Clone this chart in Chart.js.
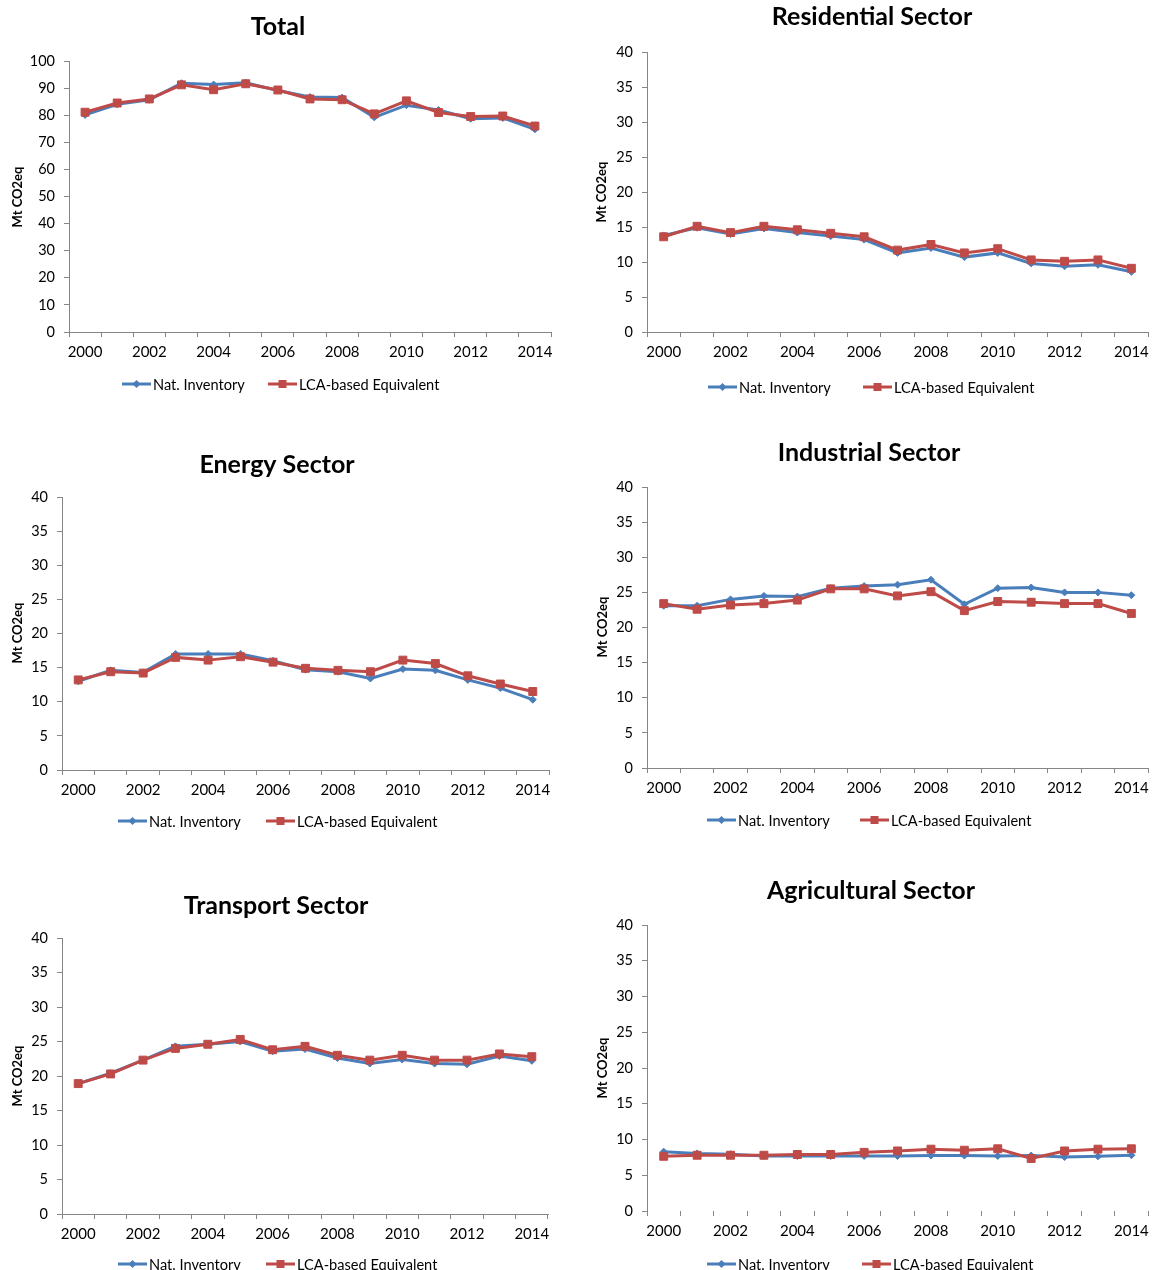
<!DOCTYPE html>
<html>
<head>
<meta charset="utf-8">
<title>CO2eq emissions by sector</title>
<script src="https://cdn.jsdelivr.net/npm/chart.js@4.4.0/dist/chart.umd.min.js"></script>
<style>
    html, body { margin: 0; padding: 0; background: #fff; overflow: hidden; }
    #wrap { position: relative; width: 1155px; height: 1270px; }
    #wrap canvas { position: absolute; left: 0; top: 0; }
</style>
</head>
<body>
<div id="wrap"></div>
<script>
// --- DATA ---
const years = ['2000', '2001', '2002', '2003', '2004', '2005', '2006', '2007', '2008', '2009', '2010', '2011', '2012', '2013', '2014'];
const seriesNames = ['Nat. Inventory', 'LCA-based Equivalent'];

const totalInventory = [80.1, 84.0, 85.7, 91.8, 91.3, 92.0, 89.1, 86.7, 86.5, 79.2, 83.7, 81.9, 78.7, 79.0, 74.8];
const totalLca = [81.1, 84.5, 86.0, 91.2, 89.4, 91.6, 89.3, 86.0, 85.7, 80.5, 85.3, 81.0, 79.5, 79.7, 76.0];

const residentialInventory = [13.8, 14.9, 14.0, 14.8, 14.2, 13.7, 13.2, 11.3, 12.0, 10.7, 11.3, 9.8, 9.4, 9.6, 8.6];
const residentialLca = [13.6, 15.1, 14.2, 15.1, 14.6, 14.1, 13.6, 11.7, 12.5, 11.3, 11.9, 10.3, 10.1, 10.3, 9.1];

const energyInventory = [13.0, 14.6, 14.3, 17.0, 17.0, 17.0, 16.0, 14.7, 14.4, 13.4, 14.8, 14.6, 13.2, 12.0, 10.3];
const energyLca = [13.2, 14.4, 14.2, 16.5, 16.1, 16.6, 15.8, 14.9, 14.6, 14.4, 16.1, 15.6, 13.8, 12.6, 11.5];

const industrialInventory = [23.1, 23.1, 24.0, 24.5, 24.4, 25.6, 25.9, 26.1, 26.8, 23.3, 25.6, 25.7, 25.0, 25.0, 24.6];
const industrialLca = [23.4, 22.6, 23.2, 23.4, 23.9, 25.5, 25.5, 24.5, 25.1, 22.4, 23.7, 23.6, 23.4, 23.4, 22.0];

const transportInventory = [18.9, 20.4, 22.3, 24.3, 24.6, 25.0, 23.6, 23.9, 22.6, 21.8, 22.4, 21.8, 21.7, 22.9, 22.2];
const transportLca = [18.9, 20.3, 22.3, 24.0, 24.6, 25.3, 23.8, 24.3, 23.0, 22.3, 23.0, 22.3, 22.3, 23.2, 22.8];

const agriculturalInventory = [8.3, 8.05, 7.95, 7.7, 7.7, 7.7, 7.7, 7.7, 7.75, 7.75, 7.7, 7.75, 7.55, 7.65, 7.8];
const agriculturalLca = [7.65, 7.8, 7.8, 7.8, 7.9, 7.9, 8.2, 8.4, 8.65, 8.5, 8.7, 7.35, 8.4, 8.65, 8.7];

const yLabel = 'Mt CO2eq';

// --- STYLE ---
const FONT = "Lato, 'Liberation Sans', sans-serif";
const BLUE = '#4A7EBB';
const RED = '#BE4B48';
const AXIS = '#868686';
const W = 1155, H = 1270;

// panel layout: plot box, title, y label, legend placement
const panels = [
    { title: 'Total', inv: totalInventory, lca: totalLca, yMax: 100, yStep: 10,
      box: { left: 69, right: 551, top: 61, bottom: 332 },
      titleAt: [278, 27], yLabelAt: [18, 197], legendY: 384, legendX: [122, 268] },
    { title: 'Residential Sector', inv: residentialInventory, lca: residentialLca, yMax: 40, yStep: 5,
      box: { left: 647, right: 1155, top: 52, bottom: 332 },
      titleAt: [872, 17], yLabelAt: [602, 192], legendY: 387, legendX: [708, 863] },
    { title: 'Energy Sector', inv: energyInventory, lca: energyLca, yMax: 40, yStep: 5,
      box: { left: 62, right: 549, top: 497, bottom: 770 },
      titleAt: [277, 465], yLabelAt: [18, 633], legendY: 821, legendX: [118, 266] },
    { title: 'Industrial Sector', inv: industrialInventory, lca: industrialLca, yMax: 40, yStep: 5,
      box: { left: 647, right: 1149, top: 487, bottom: 768 },
      titleAt: [869, 453], yLabelAt: [603, 627], legendY: 820, legendX: [707, 860] },
    { title: 'Transport Sector', inv: transportInventory, lca: transportLca, yMax: 40, yStep: 5,
      box: { left: 62, right: 548, top: 938, bottom: 1214 },
      titleAt: [276, 906], yLabelAt: [18, 1076], legendY: 1264, legendX: [118, 266] },
    { title: 'Agricultural Sector', inv: agriculturalInventory, lca: agriculturalLca, yMax: 40, yStep: 5,
      box: { left: 647, right: 1155, top: 925, bottom: 1211 }, noXLine: true,
      titleAt: [871, 891], yLabelAt: [603, 1068], legendY: 1264, legendX: [707, 862] }
];

// title, rotated axis label and Excel-like legend (line with marker)
const makeDeco = (p) => ({
    id: 'deco',
    afterDraw(chart) {
        const ctx = chart.ctx;
        ctx.save();
        ctx.fillStyle = '#000';
        ctx.textAlign = 'center';
        ctx.textBaseline = 'middle';
        ctx.font = `bold 25px ${FONT}`;
        ctx.fillText(p.title, p.titleAt[0], p.titleAt[1]);

        ctx.save();
        ctx.translate(p.yLabelAt[0], p.yLabelAt[1]);
        ctx.rotate(-Math.PI / 2);
        ctx.font = `bold 13px ${FONT}`;
        ctx.fillText(yLabel, 0, 0);
        ctx.restore();

        const items = [
            { color: BLUE, style: 'diamond', text: seriesNames[0], x: p.legendX[0] },
            { color: RED, style: 'square', text: seriesNames[1], x: p.legendX[1] }
        ];
        const y = p.legendY;
        items.forEach(it => {
            ctx.strokeStyle = it.color;
            ctx.fillStyle = it.color;
            ctx.lineWidth = 3;
            ctx.beginPath();
            ctx.moveTo(it.x, y);
            ctx.lineTo(it.x + 29, y);
            ctx.stroke();
            const cx = it.x + 14.5;
            if (it.style === 'square') {
                ctx.fillRect(cx - 4, y - 4, 8, 8);
            } else {
                ctx.beginPath();
                ctx.moveTo(cx, y - 4); ctx.lineTo(cx + 4, y); ctx.lineTo(cx, y + 4); ctx.lineTo(cx - 4, y);
                ctx.closePath();
                ctx.fill();
            }
            ctx.fillStyle = '#000';
            ctx.textAlign = 'left';
            ctx.font = `14.6px ${FONT}`;
            ctx.fillText(it.text, it.x + 31, y + 1);
        });
        ctx.restore();
    }
});

const wrap = document.getElementById('wrap');

panels.forEach(p => {
    const canvas = document.createElement('canvas');
    canvas.width = W;
    canvas.height = H;
    canvas.style.width = W + 'px';
    canvas.style.height = H + 'px';
    wrap.appendChild(canvas);

    const chart = new Chart(canvas.getContext('2d'), {
        type: 'line',
        data: {
            labels: years,
            datasets: [
                { label: seriesNames[0], data: p.inv, borderColor: BLUE, backgroundColor: BLUE,
                  borderWidth: 3, pointStyle: 'rectRot', pointRadius: 3.5, pointBorderWidth: 1, order: 2 },
                { label: seriesNames[1], data: p.lca, borderColor: RED, backgroundColor: RED,
                  borderWidth: 3, pointStyle: 'rect', pointRadius: 5.6, pointBorderWidth: 1, order: 1 }
            ]
        },
        options: {
            responsive: false,
            animation: false,
            events: [],
            layout: { padding: { left: p.box.left - 50, top: p.box.top, right: W - p.box.right, bottom: H - p.box.bottom - 30 } },
            elements: { line: { tension: 0 } },
            plugins: { legend: { display: false }, title: { display: false }, tooltip: { enabled: false } },
            scales: {
                x: {
                    offset: true,
                    grid: { offset: true, drawOnChartArea: false, tickLength: 5, color: AXIS },
                    border: { display: !p.noXLine, color: AXIS },
                    ticks: {
                        autoSkip: false, maxRotation: 0, padding: 6, color: '#000',
                        font: { family: FONT, size: 15 },
                        callback: function (v, i) { return i % 2 === 0 ? this.getLabelForValue(v) : ''; }
                    },
                    afterFit: s => { s.height = 30; }
                },
                y: {
                    min: 0, max: p.yMax,
                    grid: { drawOnChartArea: false, tickLength: 5, color: AXIS },
                    border: { color: AXIS },
                    ticks: { stepSize: p.yStep, padding: 9, color: '#000', font: { family: FONT, size: 14.5 } },
                    afterFit: s => { s.width = 50; }
                }
            }
        },
        plugins: [makeDeco(p)]
    });

    // nudge padding so the plot area lands on the reference box
    const a = chart.chartArea;
    const pad = chart.options.layout.padding;
    pad.left += p.box.left - a.left;
    pad.top += p.box.top - a.top;
    pad.right += a.right - p.box.right;
    pad.bottom += a.bottom - p.box.bottom;
    chart.update('none');
});
</script>
</body>
</html>
